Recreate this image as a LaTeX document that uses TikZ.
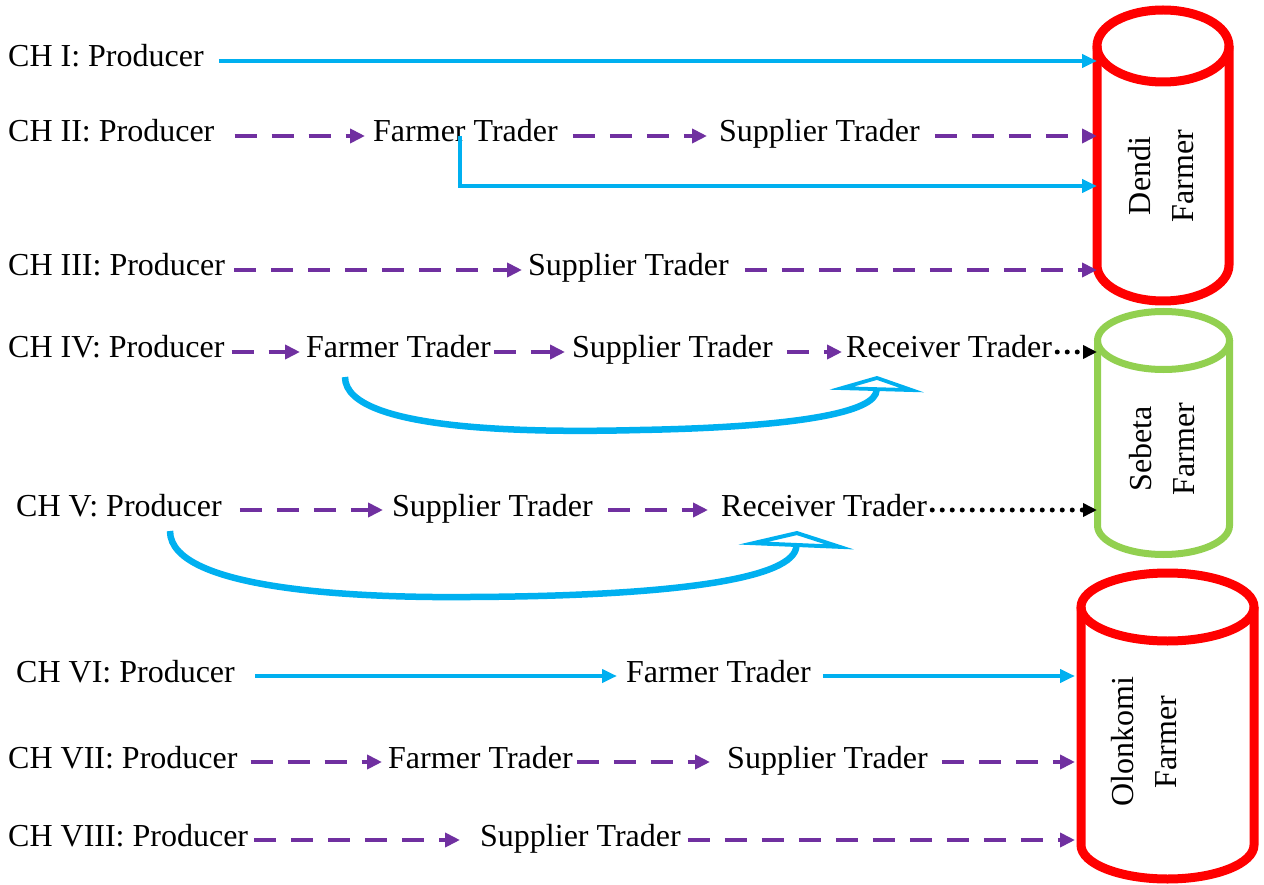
\documentclass[tikz,border=0pt]{standalone}
\usepackage{fontspec}
\setmainfont{Liberation Serif}
\usetikzlibrary{arrows.meta}
\tikzset{
  label-text/.style={
    font=\fontsize{32}{43}\selectfont,
    inner xsep=0pt,
    inner ysep=0pt,
    text height=22pt,
    text depth=10pt,
    anchor=west
  },
  drum-label/.style={
    font=\fontsize{32}{43}\selectfont,
    align=center,
    rotate=90
  },
  flow/.style={line width=4pt},
  flow-direct/.style={flow, draw=chanblue, -{Triangle[length=15pt,width=13pt]}},
  flow-trade/.style={flow, draw=chanpurple, dash pattern=on 22pt off 15pt, -{Triangle[length=15pt,width=14pt]}},
  flow-relay/.style={line width=5pt, draw=black, line cap=round, dash pattern=on 0pt off 10pt, -{Triangle[length=14pt,width=13pt]}},
  flow-loop/.style={line width=6.5pt, draw=chanblue},
  drum/.style={line width=9pt}
}
\definecolor{chanblue}{RGB}{0,176,240}
\definecolor{chanpurple}{RGB}{112,48,160}
\definecolor{drumred}{RGB}{255,0,0}
\definecolor{drumgreen}{RGB}{146,208,80}
\newcommand{\farmdrum}[6]{
  % #1 options, #2 x centre, #3 top rim y, #4 bottom rim y, #5 x radius, #6 y radius
  \draw[drum, #1] (#2,#3) ellipse [x radius=#5, y radius=#6];
  \draw[drum, #1] ({#2-#5},#3) -- ({#2-#5},#4)
    arc [start angle=180, end angle=0, x radius=#5, y radius=#6] -- ({#2+#5},#3);
}

\begin{document}
\begin{tikzpicture}[x=1pt, y=-1pt]
  \fill[white] (0,0) rectangle (1264,885);
  \useasboundingbox (0,0) rectangle (1264,885);

  % Farmer drums
  \farmdrum{draw=drumred}{1163}{46}{265}{66}{36}
  \farmdrum{draw=drumgreen, line width=7pt}{1163.5}{340.5}{525.5}{66}{29}
  \farmdrum{draw=drumred}{1167.5}{607}{845}{86.5}{34}
  \node[drum-label] (dendi) at (1161,176) {Dendi\\Farmer};
  \node[drum-label] (sebeta) at (1162,449) {Sebeta\\Farmer};
  \node[drum-label] (olonkomi) at (1144,742) {Olonkomi\\Farmer};
  \coordinate (dendi-edge) at (1097,0);
  \coordinate (dendi-low) at (1097,186);
  \coordinate (sebeta-edge) at (1097,0);
  \coordinate (olonkomi-edge) at (1075,0);

  % CH I
  \node[label-text] (p1) at (8,61) {CH I: Producer};
  \draw[flow-direct] ([xshift=15pt]p1.east) -- (p1.east -| dendi-edge);

  % CH II
  \node[label-text] (p2) at (8,136) {CH II: Producer};
  \node[label-text] (ft2) at (373,136) {Farmer Trader};
  \node[label-text] (st2) at (719,136) {Supplier Trader};
  \draw[flow-trade] ([xshift=20pt]p2.east) -- ([xshift=-8pt]ft2.west);
  \draw[flow-trade] ([xshift=15pt]ft2.east) -- ([xshift=-12pt]st2.west);
  \draw[flow-trade] ([xshift=15pt]st2.east) -- (st2.east -| dendi-edge);
  \draw[flow-direct] ([xshift=-5.5pt]ft2.center) |- (dendi-low);

  % CH III
  \node[label-text] (p3) at (8,270) {CH III: Producer};
  \node[label-text] (st3) at (528,270) {Supplier Trader};
  \draw[flow-trade] ([xshift=9pt]p3.east) -- ([xshift=-6pt]st3.west);
  \draw[flow-trade] ([xshift=16pt]st3.east) -- (st3.east -| dendi-edge);

  % CH IV
  \node[label-text] (p4) at (8,352) {CH IV: Producer};
  \node[label-text] (ft4) at (306,352) {Farmer Trader};
  \node[label-text] (st4) at (572,352) {Supplier Trader};
  \node[label-text] (rt4) at (846,352) {Receiver Trader};
  \draw[flow-trade] ([xshift=7pt]p4.east) -- ([xshift=-6pt]ft4.west);
  \draw[flow-trade] ([xshift=3pt]ft4.east) -- ([xshift=-7pt]st4.west);
  \draw[flow-trade] ([xshift=14pt]st4.east) -- ([xshift=-4pt]rt4.west);
  \draw[flow-relay] ([xshift=5pt]rt4.east) -- (rt4.east -| sebeta-edge);
  \coordinate (loop4-start) at (345,377);
  \coordinate (loop4-tip) at (877,376);
  \draw[flow-loop, -{Triangle[open, length=15pt, width=94pt, line width=4pt]}] (loop4-start)
    .. controls (345,435) and (560,432) .. (640,430)
    .. controls (800,427) and (876,412) .. (loop4-tip);

  % CH V
  \node[label-text] (p5) at (16,510) {CH V: Producer};
  \node[label-text] (st5) at (392,510) {Supplier Trader};
  \node[label-text] (rt5) at (721,510) {Receiver Trader};
  \draw[flow-trade] ([xshift=18pt]p5.east) -- ([xshift=-9pt]st5.west);
  \draw[flow-trade] ([xshift=15pt]st5.east) -- ([xshift=-13pt]rt5.west);
  \draw[flow-relay] ([xshift=5pt]rt5.east) -- (rt5.east -| sebeta-edge);
  \coordinate (loop5-start) at (170,531);
  \coordinate (loop5-tip) at (797,531);
  \draw[flow-loop, -{Triangle[open, length=16pt, width=115pt, line width=4pt]}] (loop5-start)
    .. controls (170,592) and (370,598) .. (470,597)
    .. controls (680,596) and (795,578) .. (loop5-tip);

  % CH VI
  \node[label-text] (p6) at (16,676) {CH VI: Producer};
  \node[label-text] (ft6) at (626,676) {Farmer Trader};
  \draw[flow-direct] ([xshift=20pt]p6.east) -- ([xshift=-9pt]ft6.west);
  \draw[flow-direct] ([xshift=12pt]ft6.east) -- (ft6.east -| olonkomi-edge);

  % CH VII
  \node[label-text] (p7) at (8,762) {CH VII: Producer};
  \node[label-text] (ft7) at (388,762) {Farmer Trader};
  \node[label-text] (st7) at (727,762) {Supplier Trader};
  \draw[flow-trade] ([xshift=13pt]p7.east) -- ([xshift=-6pt]ft7.west);
  \draw[flow-trade] ([xshift=4pt]ft7.east) -- ([xshift=-17pt]st7.west);
  \draw[flow-trade] ([xshift=14pt]st7.east) -- (st7.east -| olonkomi-edge);

  % CH VIII
  \node[label-text] (p8) at (8,840) {CH VIII: Producer};
  \node[label-text] (st8) at (480,840) {Supplier Trader};
  \draw[flow-trade] ([xshift=6pt]p8.east) -- ([xshift=-20pt]st8.west);
  \draw[flow-trade] ([xshift=7pt]st8.east) -- (st8.east -| olonkomi-edge);
\end{tikzpicture}
\end{document}
